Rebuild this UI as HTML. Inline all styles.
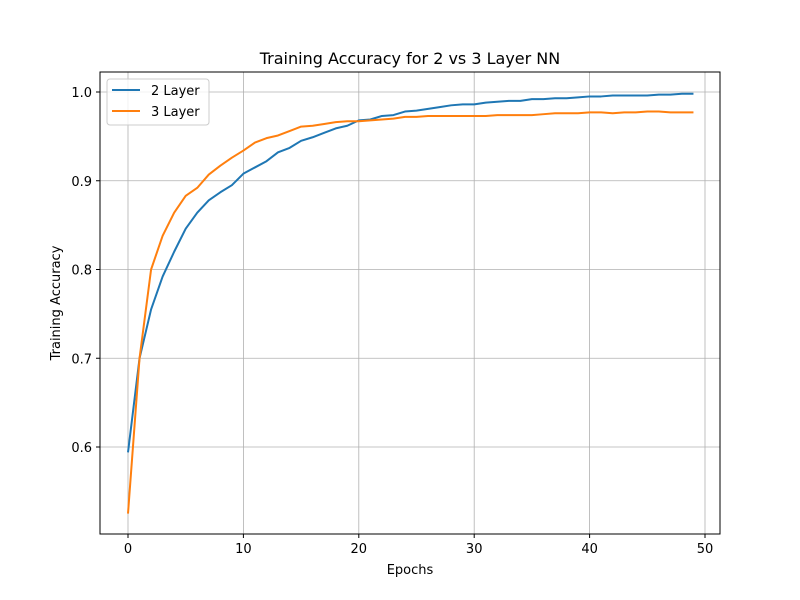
<!DOCTYPE html>
<html><head><meta charset="utf-8"><style>
body{margin:0;background:#fff}
svg{display:block;font-family:"DejaVu Sans","Liberation Sans",sans-serif}
</style></head><body>
<svg id="chart" width="800" height="600">
<rect width="800" height="600" fill="#fff"/>
<text x="410" y="64" font-size="16" text-anchor="middle">Training Accuracy for 2 vs 3 Layer NN</text>
<g id="grid"></g><g id="ticks"></g><g id="lines"></g>
<rect x="100" y="72" width="620" height="462" fill="none" stroke="#000" stroke-width="1"/>
<text x="410" y="574" font-size="13" text-anchor="middle">Epochs</text>
<text transform="translate(60,303) rotate(-90)" font-size="13" text-anchor="middle">Training Accuracy</text>
<g>
<rect x="107" y="79" width="102" height="46" rx="3" fill="#fff" fill-opacity="0.8" stroke="#ccc"/>
<g><line x1="112" y1="90" x2="140" y2="90" stroke="#1f77b4" stroke-width="2"/><text x="151" y="95" font-size="13">2 Layer</text></g>
<g><line x1="112" y1="111" x2="140" y2="111" stroke="#ff7f0e" stroke-width="2"/><text x="151" y="116" font-size="13">3 Layer</text></g>
</g>
</svg>
<script>
const epochs=[...Array(50).keys()];
const layer2=[0.594,0.70,0.755,0.792,0.82,0.846,0.864,0.878,0.887,0.895,0.908,0.915,0.922,0.932,0.937,0.945,0.949,0.954,0.959,0.962,0.968,0.969,0.973,0.974,0.978,0.979,0.981,0.983,0.985,0.986,0.986,0.988,0.989,0.990,0.990,0.992,0.992,0.993,0.993,0.994,0.995,0.995,0.996,0.996,0.996,0.996,0.997,0.997,0.998,0.998];
const layer3=[0.525,0.70,0.80,0.838,0.864,0.883,0.892,0.907,0.917,0.926,0.934,0.943,0.948,0.951,0.956,0.961,0.962,0.964,0.966,0.967,0.967,0.968,0.969,0.970,0.972,0.972,0.973,0.973,0.973,0.973,0.973,0.973,0.974,0.974,0.974,0.974,0.975,0.976,0.976,0.976,0.977,0.977,0.976,0.977,0.977,0.978,0.978,0.977,0.977,0.977];
const xTicks=[0,10,20,30,40,50];
const yTicks=[0.6,0.7,0.8,0.9,1.0];
const NS="http://www.w3.org/2000/svg";
function xs(v){return 128+v*11.54;}
function ys(v){return 92+(1-v)*887.5;}
function mk(t,a,p){const e=document.createElementNS(NS,t);for(const k in a)e.setAttribute(k,a[k]);p.appendChild(e);return e;}
const grid=document.getElementById('grid'),ticks=document.getElementById('ticks'),lines=document.getElementById('lines');
xTicks.forEach(t=>{const x=xs(t);
const g=mk('line',{x1:x,x2:x,y1:72,y2:534,stroke:'#b0b0b0','stroke-width':0.8},grid);


mk('line',{x1:x,x2:x,y1:534,y2:538,stroke:'#000'},ticks);
const tx=mk('text',{x:x,y:553,'font-size':13,'text-anchor':'middle'},ticks);tx.textContent=t;

});
yTicks.forEach(t=>{const y=ys(t);
const g=mk('line',{x1:100,x2:720,y1:y,y2:y,stroke:'#b0b0b0','stroke-width':0.8},grid);


mk('line',{x1:96,x2:100,y1:y,y2:y,stroke:'#000'},ticks);
const tx=mk('text',{x:92,y:y+5,'font-size':13,'text-anchor':'end'},ticks);tx.textContent=t.toFixed(1);

});
[[layer2,'#1f77b4','line-2-layer'],[layer3,'#ff7f0e','line-3-layer']].forEach(([d,c,n])=>{
const p=mk('polyline',{points:d.map((v,i)=>xs(epochs[i])+','+ys(v)).join(' '),fill:'none',stroke:c,'stroke-width':2,'stroke-linejoin':'round'},lines);

});
</script>
</body></html>
